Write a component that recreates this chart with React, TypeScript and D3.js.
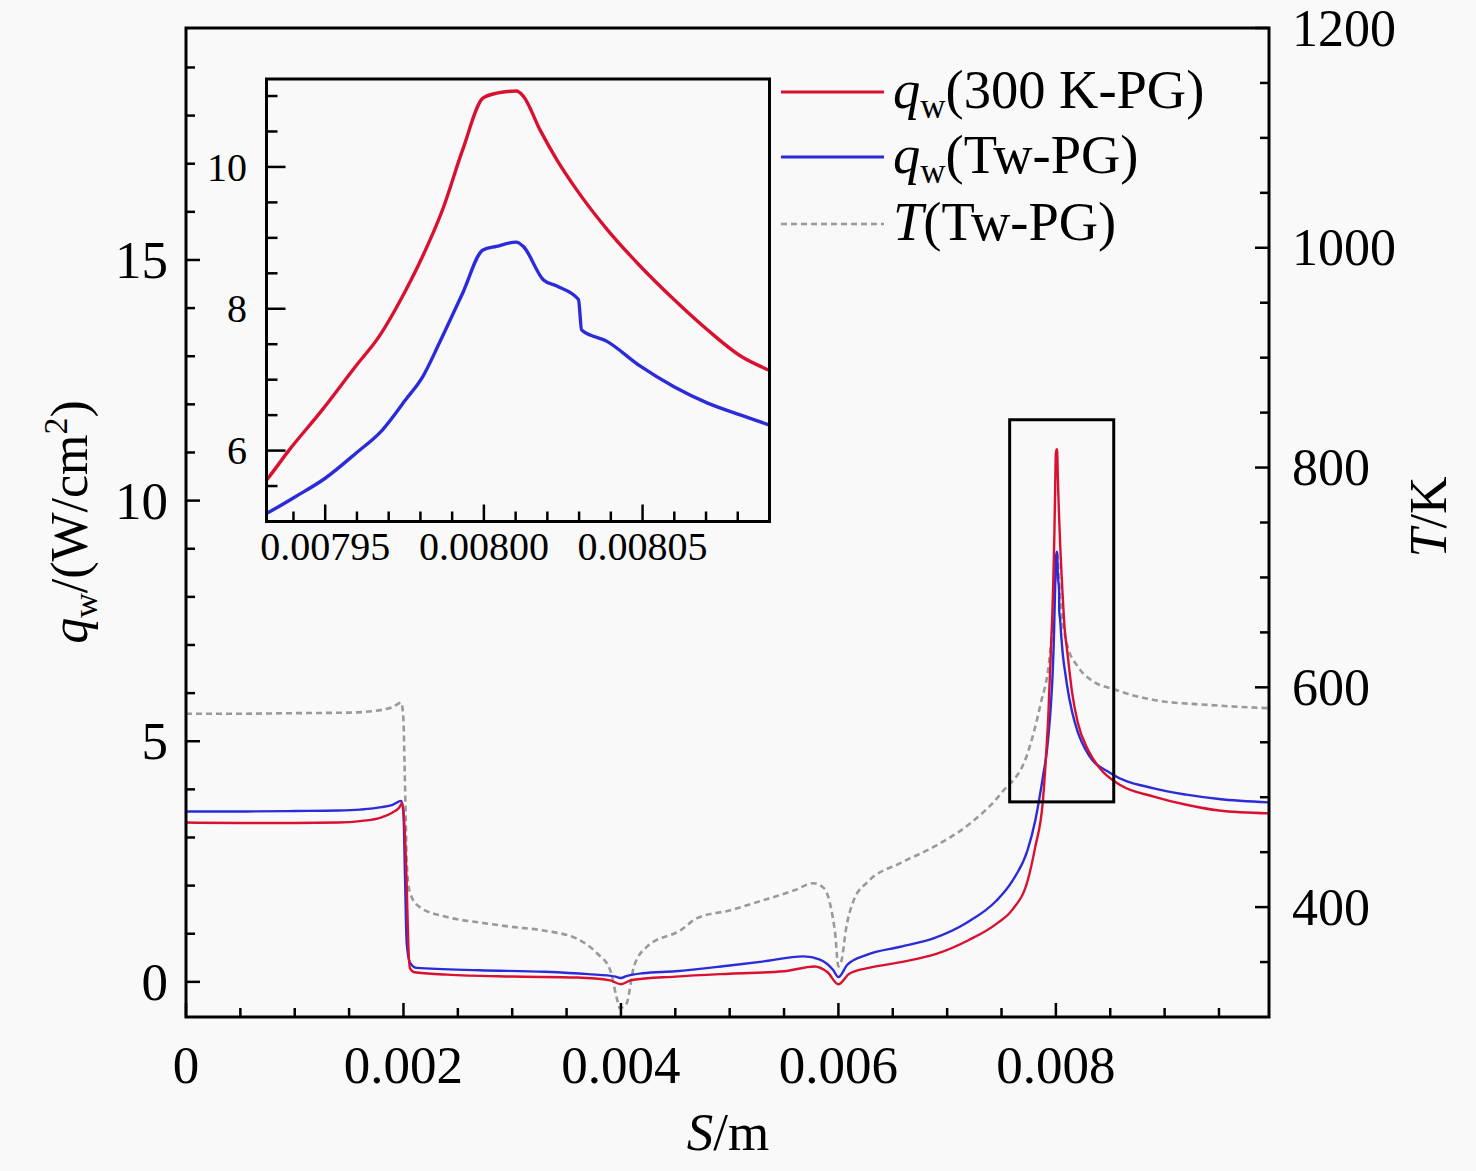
import * as d3 from 'd3';

// ---- data ----
const sTicks = [0, 0.002, 0.004, 0.006, 0.008];
const sTickLabels = ['0', '0.002', '0.004', '0.006', '0.008'];
const qTicks = [0, 5, 10, 15];
const tTicks = [400, 600, 800, 1000, 1200];
const insetSTicks = [0.00795, 0.008, 0.00805];
const insetSTickLabels = ['0.00795', '0.00800', '0.00805'];
const insetQTicks = [6, 8, 10];

// q_w (300 K-PG), W/cm^2
const q300PG: [number, number][] = [
  [0, 3.31], [0.0005, 3.3], [0.001, 3.3], [0.0014, 3.31], [0.0016, 3.34], [0.0018, 3.42],
  [0.0019, 3.52], [0.00196, 3.62], [0.00199, 3.72], [0.00201, 3.2], [0.00203, 2.0],
  [0.002045, 0.75], [0.00206, 0.28], [0.0021, 0.2], [0.0024, 0.15], [0.003, 0.11],
  [0.0036, 0.09], [0.0039, 0.03], [0.004, -0.05], [0.0041, 0.04], [0.0045, 0.11],
  [0.005, 0.17], [0.0055, 0.22], [0.00578, 0.32], [0.0059, 0.2], [0.006, -0.05],
  [0.0061, 0.17], [0.0063, 0.3], [0.0066, 0.42], [0.0069, 0.58], [0.0072, 0.87],
  [0.00745, 1.2], [0.0076, 1.5], [0.00774, 2.1], [0.00781, 2.8], [0.00788, 3.75],
  [0.007915, 4.9], [0.0079316, 5.59], [0.0079385, 6.0], [0.007949, 6.57], [0.0079596, 7.19],
  [0.007967, 7.61], [0.0079743, 8.17], [0.0079807, 8.74], [0.007987, 9.4], [0.0079933, 10.24],
  [0.0079997, 10.97], [0.008004, 11.04], [0.0080102, 11.07], [0.0080124, 11.0],
  [0.0080176, 10.53], [0.008023, 10.1], [0.0080292, 9.68], [0.0080388, 9.12],
  [0.0080493, 8.6], [0.0080599, 8.13], [0.0080705, 7.7], [0.008081, 7.33], [0.0080895, 7.14],
  [0.0081, 6.95], [0.00815, 6.0], [0.0082, 5.4], [0.0083, 4.8], [0.0084, 4.45],
  [0.0086, 4.08], [0.0089, 3.85], [0.0092, 3.68], [0.0095, 3.56], [0.00996, 3.5],
];

// q_w (Tw-PG), W/cm^2
const qTwPG: [number, number][] = [
  [0, 3.54], [0.0005, 3.54], [0.001, 3.55], [0.0014, 3.56], [0.0016, 3.58], [0.0018, 3.63],
  [0.0019, 3.68], [0.00198, 3.76], [0.002, 3.5], [0.002015, 2.1], [0.00203, 0.8],
  [0.00206, 0.4], [0.00212, 0.29], [0.0027, 0.24], [0.0033, 0.21], [0.0037, 0.16],
  [0.00395, 0.11], [0.004, 0.08], [0.00405, 0.12], [0.0042, 0.18], [0.0045, 0.22],
  [0.005, 0.34], [0.0053, 0.42], [0.00568, 0.53], [0.00583, 0.46], [0.00595, 0.25],
  [0.006, 0.1], [0.00608, 0.35], [0.00626, 0.56], [0.00657, 0.73], [0.00688, 0.91],
  [0.00718, 1.23], [0.00745, 1.68], [0.0076, 2.1], [0.00774, 2.74], [0.00781, 3.35],
  [0.00788, 4.25], [0.00792, 4.85], [0.0079316, 5.115], [0.0079406, 5.35], [0.00795, 5.61],
  [0.0079596, 5.96], [0.007968, 6.29], [0.0079754, 6.72], [0.0079807, 7.04], [0.007986, 7.52],
  [0.0079933, 8.22], [0.0079997, 8.83], [0.008004, 8.88], [0.0080102, 8.94], [0.0080124, 8.88],
  [0.0080187, 8.41], [0.008023, 8.32], [0.0080298, 8.13], [0.0080308, 7.7], [0.0080388, 7.54],
  [0.0080493, 7.19], [0.0080599, 6.9], [0.0080705, 6.67], [0.008081, 6.5], [0.00809, 6.36],
  [0.0081, 6.2], [0.00815, 5.6], [0.0082, 5.2], [0.0083, 4.72], [0.0085, 4.34],
  [0.0089, 4.02], [0.0092, 3.89], [0.0095, 3.8], [0.00996, 3.73],
];

// T (Tw-PG), K
const tTwPG: [number, number][] = [
  [0, 576], [0.0005, 576], [0.001, 576.5], [0.0015, 577], [0.0018, 579.5], [0.0019, 582],
  [0.00198, 586], [0.002, 570], [0.00201, 530], [0.00202, 485], [0.00203, 440],
  [0.00206, 413], [0.00215, 400], [0.0024, 391], [0.0027, 386], [0.003, 382],
  [0.0033, 378.5], [0.0036, 371], [0.00378, 358], [0.0039, 343], [0.00396, 318],
  [0.00399, 308], [0.00405, 312], [0.00412, 346], [0.00424, 364], [0.00455, 379],
  [0.0047, 390], [0.005, 397], [0.0053, 406], [0.0056, 415.5], [0.00577, 421.7],
  [0.00587, 417], [0.00593, 400], [0.00597, 376], [0.006, 346], [0.00603, 352],
  [0.00607, 380], [0.00614, 406], [0.00627, 423], [0.00657, 440], [0.00688, 455],
  [0.00719, 474.5], [0.0075, 504], [0.00774, 540], [0.00786, 585], [0.00794, 625],
  [0.00798, 670], [0.00801, 722], [0.00804, 680], [0.0081, 640], [0.0082, 619],
  [0.00832, 607], [0.00854, 598], [0.0089, 588.5], [0.0094, 584], [0.00996, 581],
];

// region shown in the inset, drawn as a box on the main plot
const zoomBox = { s0: 0.007575, s1: 0.008532, q0: 3.74, q1: 11.68 };

const RED = '#d9102f';
const BLUE = '#2b2bd9';
const GREY = '#9a9a9a';
const DASH = '6 4';

const font = '"Liberation Serif", "Times New Roman", serif';

const App = () => {
  const W = 1476;
  const H = 1171;
  const m = { left: 186, right: 1269, top: 28, bottom: 1017 };
  const ins = { left: 266.5, right: 769.5, top: 79, bottom: 521.5 };

  const x = d3.scaleLinear().domain([0, 0.00996]).range([m.left, m.right]);
  const yq = d3.scaleLinear().domain([-0.73, 19.82]).range([m.bottom, m.top]);
  const yt = d3.scaleLinear().domain([300, 1200]).range([m.bottom, m.top]);

  const xi = d3.scaleLinear().domain([0.0079315, 0.00809]).range([ins.left, ins.right]);
  const yi = d3.scaleLinear().domain([5.0, 11.24]).range([ins.bottom, ins.top]);

  const curve = d3.curveMonotoneX;
  const lineQ = d3.line<[number, number]>().x(d => x(d[0])).y(d => yq(d[1])).curve(curve);
  const lineT = d3.line<[number, number]>().x(d => x(d[0])).y(d => yt(d[1])).curve(curve);
  const lineI = d3.line<[number, number]>().x(d => xi(d[0])).y(d => yi(d[1])).curve(curve);

  const sMinor = d3.range(0.0005, 0.00996, 0.0005).filter(v => Math.abs(v / 0.002 - Math.round(v / 0.002)) > 1e-6);
  const qMinor = d3.range(1, 20, 1).filter(v => v % 5 !== 0);
  const tMinor = d3.range(350, 1200, 50).filter(v => v % 200 !== 0);
  const iSMinor = d3.range(0, 15).map(i => 0.00794 + i * 0.00001).filter(v => !insetSTicks.some(t => Math.abs(t - v) < 1e-9));
  const iQMinor = d3.range(5.5, 11.01, 0.5).filter(v => v % 2 !== 0);

  const tick = { stroke: '#000', strokeWidth: 2.5 };

  const legend = [
    { sym: 'q', sub: 'w', rest: '(300 K-PG)', color: RED, dash: undefined as string | undefined, y: 92 },
    { sym: 'q', sub: 'w', rest: '(Tw-PG)', color: BLUE, dash: undefined, y: 157 },
    { sym: 'T', sub: '', rest: '(Tw-PG)', color: GREY, dash: DASH, y: 224 },
  ];

  return (
    <svg width={W} height={H} style={{ position: 'absolute', left: 0, top: 0 }} fontFamily={font}>
      <defs>
        <clipPath id="mainClip">
          <rect x={m.left} y={m.top} width={m.right - m.left} height={m.bottom - m.top} />
        </clipPath>
        <clipPath id="insetClip">
          <rect x={ins.left} y={ins.top} width={ins.right - ins.left} height={ins.bottom - ins.top} />
        </clipPath>
      </defs>
      <rect width={W} height={H} fill="#f9f9f9" />

      {/* main curves */}
      <g clipPath="url(#mainClip)" fill="none">
        <path d={lineT(tTwPG)!} stroke={GREY} strokeWidth={2.6} strokeDasharray={DASH} />
        <path d={lineQ(qTwPG)!} stroke={BLUE} strokeWidth={2.4} />
        <path d={lineQ(q300PG)!} stroke={RED} strokeWidth={2.4} />
      </g>

      {/* zoom box */}
      <rect
        x={x(zoomBox.s0)} y={yq(zoomBox.q1)}
        width={x(zoomBox.s1) - x(zoomBox.s0)} height={yq(zoomBox.q0) - yq(zoomBox.q1)}
        fill="none" stroke="#000" strokeWidth={3}
      />

      {/* main frame */}
      <rect x={m.left} y={m.top} width={m.right - m.left} height={m.bottom - m.top} fill="none" stroke="#000" strokeWidth={3} />

      {/* bottom axis */}
      {sTicks.map(v => <line key={'sx' + v} x1={x(v)} x2={x(v)} y1={m.bottom} y2={m.bottom - 14} {...tick} />)}
      {sMinor.map(v => <line key={'sm' + v} x1={x(v)} x2={x(v)} y1={m.bottom} y2={m.bottom - 9} {...tick} />)}
      {sTicks.map((v, i) => (
        <text key={'sl' + v} x={x(v)} y={1083} textAnchor="middle" fontSize={53}>{sTickLabels[i]}</text>
      ))}
      <text x={728} y={1150} textAnchor="middle" fontSize={53}>
        <tspan fontStyle="italic">S</tspan>/m
      </text>

      {/* left axis */}
      {qTicks.map(v => <line key={'qy' + v} x1={m.left} x2={m.left + 14} y1={yq(v)} y2={yq(v)} {...tick} />)}
      {qMinor.map(v => <line key={'qm' + v} x1={m.left} x2={m.left + 9} y1={yq(v)} y2={yq(v)} {...tick} />)}
      {qTicks.map(v => (
        <text key={'ql' + v} x={168} y={yq(v)} dy="0.34em" textAnchor="end" fontSize={53}>{v}</text>
      ))}
      <text transform="translate(87,522) rotate(-90)" textAnchor="middle" fontSize={52}>
        <tspan fontStyle="italic">q</tspan>
        <tspan fontSize={34} dy={10}>w</tspan>
        <tspan dy={-10}>/(W/cm</tspan>
        <tspan fontSize={34} dy={-20}>2</tspan>
        <tspan dy={20}>)</tspan>
      </text>

      {/* right axis */}
      {tTicks.map(v => <line key={'ty' + v} x1={m.right} x2={m.right - 14} y1={yt(v)} y2={yt(v)} {...tick} />)}
      {tMinor.map(v => <line key={'tm' + v} x1={m.right} x2={m.right - 9} y1={yt(v)} y2={yt(v)} {...tick} />)}
      {tTicks.map(v => (
        <text key={'tl' + v} x={1292} y={yt(v)} dy="0.34em" textAnchor="start" fontSize={52}>{v}</text>
      ))}
      <text transform="translate(1446,517) rotate(-90)" textAnchor="middle" fontSize={52}>
        <tspan fontStyle="italic">T</tspan>/K
      </text>

      {/* inset */}
      <rect x={ins.left} y={ins.top} width={ins.right - ins.left} height={ins.bottom - ins.top} fill="#f9f9f9" />
      <g clipPath="url(#insetClip)" fill="none">
        <path d={lineI(qTwPG)!} stroke={BLUE} strokeWidth={3.4} />
        <path d={lineI(q300PG)!} stroke={RED} strokeWidth={3.4} />
      </g>
      <rect x={ins.left} y={ins.top} width={ins.right - ins.left} height={ins.bottom - ins.top} fill="none" stroke="#000" strokeWidth={3} />
      {insetSTicks.map(v => <line key={'ix' + v} x1={xi(v)} x2={xi(v)} y1={ins.bottom} y2={ins.bottom - 17} {...tick} />)}
      {iSMinor.map(v => <line key={'ixm' + v} x1={xi(v)} x2={xi(v)} y1={ins.bottom} y2={ins.bottom - 10} {...tick} />)}
      {insetSTicks.map((v, i) => (
        <text key={'ixl' + v} x={xi(v)} y={560} textAnchor="middle" fontSize={40}>{insetSTickLabels[i]}</text>
      ))}
      {insetQTicks.map(v => <line key={'iy' + v} x1={ins.left} x2={ins.left + 19} y1={yi(v)} y2={yi(v)} {...tick} />)}
      {iQMinor.map(v => <line key={'iym' + v} x1={ins.left} x2={ins.left + 11} y1={yi(v)} y2={yi(v)} {...tick} />)}
      {insetQTicks.map(v => (
        <text key={'iyl' + v} x={247} y={yi(v)} dy="0.34em" textAnchor="end" fontSize={40}>{v}</text>
      ))}

      {/* legend */}
      {legend.map(l => (
        <g key={l.rest + l.sym}>
          <line x1={781} x2={884} y1={l.y} y2={l.y} stroke={l.color} strokeWidth={l.dash ? 2.6 : 3} strokeDasharray={l.dash} />
          <text x={893} y={l.y + 16} fontSize={54.5}>
            <tspan fontStyle="italic">{l.sym}</tspan>
            {l.sub ? <tspan fontSize={35} dy={10}>{l.sub}</tspan> : null}
            <tspan dy={l.sub ? -10 : 0}>{l.rest}</tspan>
          </text>
        </g>
      ))}
    </svg>
  );
};

export default App;
